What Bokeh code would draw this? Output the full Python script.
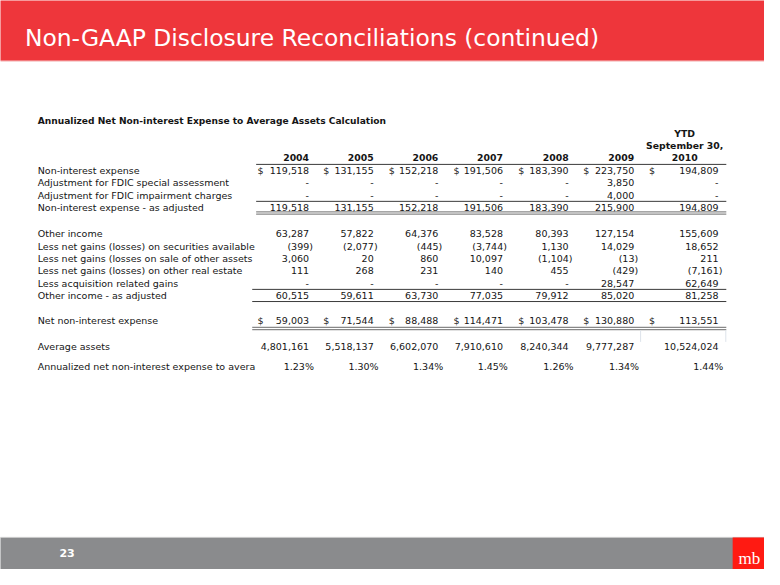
from bokeh.plotting import figure
from bokeh.models import Range1d, ColumnDataSource
from bokeh.core.properties import value
from bokeh.embed import file_html
from bokeh.resources import INLINE

# ---------------- data ----------------
slide_title = "Non-GAAP Disclosure Reconciliations (continued)"
table_title = "Annualized Net Non-interest Expense to Average Assets Calculation"
years = ["2004", "2005", "2006", "2007", "2008", "2009", "2010"]
ytd_header = ["YTD", "September 30,"]
page_number = "23"
logo_text = "mb"

row_labels = [
    "Non-interest expense",
    "Adjustment for FDIC special assessment",
    "Adjustment for FDIC impairment charges",
    "Non-interest expense - as adjusted",
    "Other income",
    "Less net gains (losses) on securities available",
    "Less net gains (losses on sale of other assets",
    "Less net gains (losses) on other real estate",
    "Less acquisition related gains",
    "Other income - as adjusted",
    "Net non-interest expense",
    "Average assets",
    "Annualized net non-interest expense to avera",
]

nonint_expense = [119518, 131155, 152218, 191506, 183390, 223750, 194809]
fdic_special = [0, 0, 0, 0, 0, 3850, 0]
fdic_impairment = [0, 0, 0, 0, 0, 4000, 0]
nonint_adjusted = [119518, 131155, 152218, 191506, 183390, 215900, 194809]
other_income = [63287, 57822, 64376, 83528, 80393, 127154, 155609]
gains_securities = [-399, -2077, -445, -3744, 1130, 14029, 18652]
gains_other_assets = [3060, 20, 860, 10097, -1104, -13, 211]
gains_real_estate = [111, 268, 231, 140, 455, -429, -7161]
acquisition_gains = [0, 0, 0, 0, 0, 28547, 62649]
other_income_adjusted = [60515, 59611, 63730, 77035, 79912, 85020, 81258]
net_nonint_expense = [59003, 71544, 88488, 114471, 103478, 130880, 113551]
average_assets = [4801161, 5518137, 6602070, 7910610, 8240344, 9777287, 10524024]
expense_ratio_pct = [1.23, 1.30, 1.34, 1.45, 1.26, 1.34, 1.44]

rows = [nonint_expense, fdic_special, fdic_impairment, nonint_adjusted,
        other_income, gains_securities, gains_other_assets, gains_real_estate,
        acquisition_gains, other_income_adjusted, net_nonint_expense,
        average_assets, expense_ratio_pct]
dollar_rows = {0, 10}
pct_rows = {12}

# ---------------- layout (reference-slide pixel coordinates, 780 x 585) ----------------
W, H = 764, 569
row_y = [175, 187.5, 200, 212.5, 239.5, 252.5, 265.2, 278, 290.8, 303.5, 329, 356, 376.5]
col_right = [315, 381, 447, 513, 580, 647, 733]
dollar_x = [262.5, 329.5, 396.5, 462.5, 528.5, 595, 662]
label_x = 38
BODY_FONT = value("DejaVu Sans")
FS = "9.5px"
TXT = "#151515"

p = figure(width=W, height=H, x_range=Range1d(0, 780), y_range=Range1d(585, 0),
           output_backend="svg", toolbar_location=None, min_border=0,
           x_axis_type=None, y_axis_type=None)
p.grid.visible = False
p.outline_line_color = None
p.background_fill_color = "white"
p.border_fill_color = "white"

# header banner
p.quad(left=[-20], right=[800], top=[-20], bottom=[62], fill_color="#EE363B", line_color=None)
p.segment(x0=[-20], x1=[800], y0=[62.5], y1=[62.5], line_color="#f6c9c9", line_width=1)
p.text(x=[25], y=[39], text=[slide_title], text_color="white",
       text_font=BODY_FONT, text_font_size="23.4px",
       text_baseline="alphabetic", text_align="left")

# footer
p.quad(left=[-20], right=[800], top=[552], bottom=[600], fill_color="#8A8B8D", line_color=None)
p.segment(x0=[-20], x1=[800], y0=[552], y1=[552], line_color="#c9c9c9", line_width=1)
p.quad(left=[747.5], right=[800], top=[552], bottom=[600], fill_color="#FF1A12", line_color=None)
p.text(x=[68], y=[568], text=[page_number], text_color="white", text_font=BODY_FONT,
       text_font_size="11px", text_font_style="bold", text_align="center", text_baseline="middle")
p.text(x=[764.5], y=[574], text=[logo_text], text_color="white", text_font=value("Liberation Serif"),
       text_font_size="17px", text_align="center", text_baseline="alphabetic")

# table title
p.text(x=[label_x], y=[124], text=[table_title], text_color=TXT, text_font=BODY_FONT,
       text_font_size="9.1px", text_font_style="bold", text_baseline="middle")

# column headers
hx, hy, ht = [], [], []
for i, yr in enumerate(years[:-1]):
    hx.append(col_right[i]); hy.append(161.7); ht.append(yr)
p.text(x="x", y="y", text="t", source=ColumnDataSource(dict(x=hx, y=hy, t=ht)),
       text_color=TXT, text_font=BODY_FONT, text_font_size="9.3px", text_font_style="bold",
       text_align="right", text_baseline="middle")
ytd_cx = 698.5
p.text(x=[ytd_cx] * 3, y=[137, 149.5, 161.7], text=ytd_header + [years[-1]],
       text_color=TXT, text_font=BODY_FONT, text_font_size="9.3px", text_font_style="bold",
       text_align="center", text_baseline="middle")

# row labels
p.text(x=[label_x] * len(row_labels), y=row_y, text=row_labels, text_color=TXT,
       text_font=BODY_FONT, text_font_size=FS, text_baseline="middle", text_align="left")

# numbers
def fmt(v, pct=False):
    if pct:
        return f"{v:.2f}%"
    if v == 0:
        return "-"
    if v < 0:
        return f"({abs(v):,})"
    return f"{v:,}"

nx, ny, nt = [], [], []
dx, dy = [], []
for r, vals in enumerate(rows):
    for c, v in enumerate(vals):
        pct = r in pct_rows
        s = fmt(v, pct)
        off = 0
        if pct:
            off = 5
        elif v < 0:
            off = 4
        nx.append(col_right[c] + off); ny.append(row_y[r]); nt.append(s)
        if r in dollar_rows:
            dx.append(dollar_x[c]); dy.append(row_y[r])
p.text(x="x", y="y", text="t", source=ColumnDataSource(dict(x=nx, y=ny, t=nt)),
       text_color=TXT, text_font=BODY_FONT, text_font_size=FS,
       text_align="right", text_baseline="middle")
p.text(x="x", y="y", text="t", source=ColumnDataSource(dict(x=dx, y=dy, t=["$"] * len(dx))),
       text_color=TXT, text_font=BODY_FONT, text_font_size=FS,
       text_align="left", text_baseline="middle")

# rules
line_right = 741
single = [(261, 168.5), (261, 206.5), (257, 297), (257, 309.5)]
p.segment(x0=[s[0] for s in single], x1=[line_right] * len(single),
          y0=[s[1] for s in single], y1=[s[1] for s in single],
          line_color="#3a3a3a", line_width=1)
double = [(261, 217.3), (261, 219.6), (257, 336), (257, 338.3)]
p.segment(x0=[s[0] for s in double], x1=[line_right] * len(double),
          y0=[s[1] for s in double], y1=[s[1] for s in double],
          line_color="#888888", line_width=1.3)
p.segment(x0=[653.5, 740.5], x1=[653.5, 740.5], y0=[339, 339], y1=[351, 351],
          line_color="#dde3ea", line_width=1)

open("out.html", "w").write(file_html(p, INLINE))
